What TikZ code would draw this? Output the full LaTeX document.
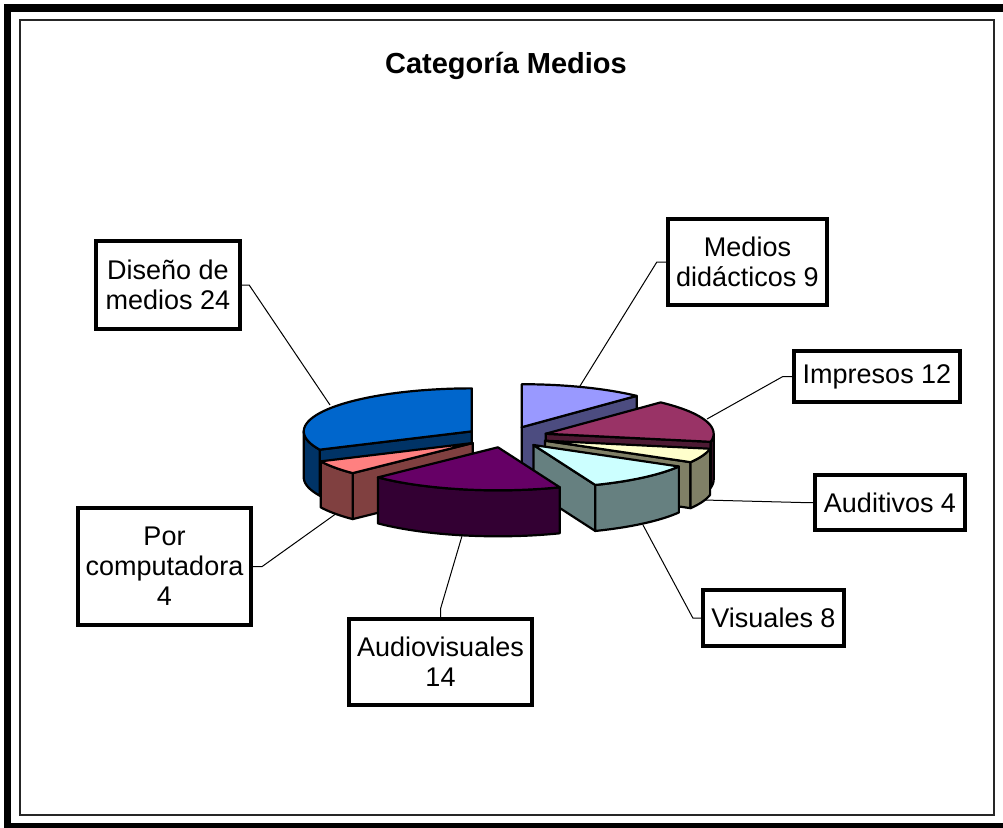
\documentclass[tikz,border=0pt]{standalone}
\usepackage{fontspec}
\setmainfont{Liberation Sans}
\definecolor{cMedT}{HTML}{9999FF}\definecolor{cMedW}{HTML}{4C4C80}
\definecolor{cImpT}{HTML}{993366}\definecolor{cImpW}{HTML}{4D1A33}
\definecolor{cAudT}{HTML}{FFFFCC}\definecolor{cAudW}{HTML}{808066}
\definecolor{cVisT}{HTML}{CCFFFF}\definecolor{cVisW}{HTML}{668080}
\definecolor{cAvT}{HTML}{660066}\definecolor{cAvW}{HTML}{330033}
\definecolor{cPcT}{HTML}{FF8080}\definecolor{cPcW}{HTML}{804040}
\definecolor{cDisT}{HTML}{0066CC}\definecolor{cDisW}{HTML}{003366}
\def\pieR{168}\def\pier{43}\def\pieh{46}
\def\piecx{506.5}\def\piecy{437}\def\pieex{0.245}
\newcommand\setapex[2]{%
  \pgfmathsetmacro\ax{\piecx+\pieex*\pieR*sin((#1+#2)/2)}%
  \pgfmathsetmacro\ay{\piecy-\pieex*\pier*cos((#1+#2)/2)}}
\newcommand\pietop[3]{%
  \filldraw[pieline,fill=#3] (\ax,\ay) -- plot[domain=#1:#2,samples=40] ({\ax+\pieR*sin(\x)},{\ay-\pier*cos(\x)}) -- cycle;}
\newcommand\piewall[3]{%
  \filldraw[pieline,fill=#3] plot[domain=#1:#2,samples=30] ({\ax+\pieR*sin(\x)},{\ay-\pier*cos(\x)}) -- plot[domain=#2:#1,samples=30] ({\ax+\pieR*sin(\x)},{\ay+\pieh-\pier*cos(\x)}) -- cycle;}
\newcommand\piecut[2]{%
  \filldraw[pieline,fill=#2] (\ax,\ay) -- ({\ax+\pieR*sin(#1)},{\ay-\pier*cos(#1)}) -- ++(0,\pieh) -- (\ax,{\ay+\pieh}) -- cycle;}
\begin{document}
\begin{tikzpicture}[x=1pt,y=-1pt,
  pieline/.style={draw=black,line width=2.2pt,line join=round},
  lbl/.style={draw=black,line width=4.3pt,fill=white,inner sep=0pt,align=center,font=\fontsize{27}{30}\selectfont},
  conn/.style={draw=black,line width=1pt}]
\useasboundingbox (0,0) rectangle (1003,827);
\clip (0,0) rectangle (1003,827);
\fill[white] (0,0) rectangle (1003,827);
\draw[line width=7.5pt] (7.5,8) rectangle (1012,827);
\draw[line width=1.5pt,black!85] (20,20) rectangle (994,815);
\node[font=\fontsize{29}{33}\selectfont\bfseries,anchor=base] (title) at (506,73) {Categoría Medios};
% labels
\node[lbl,minimum width=144pt,minimum height=88pt] (dis) at (168,285) {Diseño de\\medios 24};
\node[lbl,minimum width=159pt,minimum height=86pt] (med) at (747.5,262) {Medios\\didácticos 9};
\node[lbl,minimum width=166pt,minimum height=51pt] (imp) at (877,376.5) {Impresos 12};
\node[lbl,minimum width=150pt,minimum height=55pt] (aud) at (890,502.5) {Auditivos 4};
\node[lbl,minimum width=141pt,minimum height=56pt] (vis) at (773.5,618) {Visuales 8};
\node[lbl,minimum width=183pt,minimum height=86pt] (av) at (440.5,662) {Audiovisuales\\14};
\node[lbl,minimum width=173pt,minimum height=117pt] (pc) at (164.5,566.5) {Por\\computadora\\4};
% connector ends on the pie
\coordinate (disP) at (330,405);
\coordinate (medP) at (580,386);
\coordinate (impP) at (707,419);
\coordinate (audP) at (704,500);
\coordinate (visP) at (643,525);
\coordinate (avP) at (462,536);
\coordinate (pcP) at (337,513);
\draw[conn] (dis.east) -- ++(7,0) -- (disP);
\draw[conn] (med.west) -- ++(-9,0) -- (medP);
\draw[conn] (imp.west) -- ++(-9,0) -- (impP);
\draw[conn] (aud.west) -- ++(-12,0) -- (audP);
\draw[conn] (vis.west) -- ++(-8,0) -- (visP);
\draw[conn] (av.north) -- ++(0,-8) -- (avP);
\draw[conn] (pc.east) -- ++(9,0) -- (pcP);
% pie slices, back to front
\setapex{0}{43.2}
\piecut{43.2}{cMedW}
\pietop{0}{43.2}{cMedT}
\setapex{244.8}{360}
\piecut{244.8}{cDisW}
\piewall{244.8}{270}{cDisW}
\pietop{244.8}{360}{cDisT}
\setapex{43.2}{100.8}
\piecut{100.8}{cImpW}
\piewall{90}{100.8}{cImpW}
\pietop{43.2}{100.8}{cImpT}
\setapex{100.8}{120}
\piecut{120}{cAudW}
\piewall{100.8}{120}{cAudW}
\pietop{100.8}{120}{cAudT}
\setapex{225.6}{244.8}
\piecut{225.6}{cPcW}
\piewall{225.6}{244.8}{cPcW}
\pietop{225.6}{244.8}{cPcT}
\setapex{120}{158.4}
\piecut{158.4}{cVisW}
\piewall{120}{158.4}{cVisW}
\pietop{120}{158.4}{cVisT}
\setapex{158.4}{225.6}
\piewall{158.4}{225.6}{cAvW}
\pietop{158.4}{225.6}{cAvT}
\end{tikzpicture}
\end{document}
